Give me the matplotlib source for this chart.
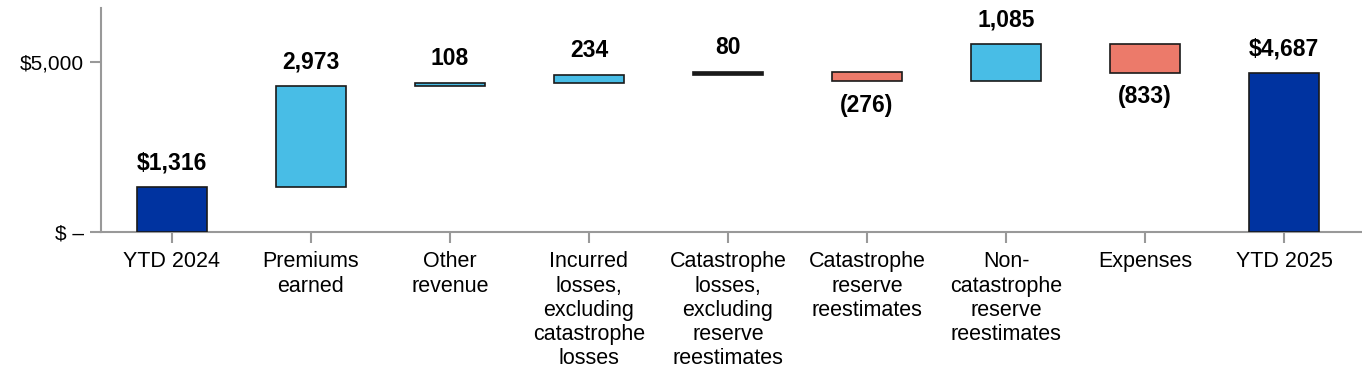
import matplotlib
matplotlib.use("Agg")
import matplotlib.pyplot as plt
import numpy as np

categories = ["YTD 2024", "Premiums\nearned", "Other\nrevenue",
              "Incurred\nlosses,\nexcluding\ncatastrophe\nlosses",
              "Catastrophe\nlosses,\nexcluding\nreserve\nreestimates",
              "Catastrophe\nreserve\nreestimates",
              "Non-\ncatastrophe\nreserve\nreestimates",
              "Expenses", "YTD 2025"]
values = [1316, 2973, 108, 234, 80, -276, 1085, -833, 4687]
is_total = [True, False, False, False, False, False, False, False, True]

C_TOTAL = "#0033A0"
C_POS = "#48BDE6"
C_NEG = "#EC7A6A"
C_EDGE = "#1a1a1a"

plt.rcParams["font.family"] = ["Liberation Sans", "DejaVu Sans"]

fig = plt.figure(figsize=(13.62, 3.84), dpi=100)
ax = fig.add_axes([101/1362, 1-232/384, 1-101/1362, (232-8)/384])

x = np.arange(len(categories))
running = 0
for i, (v, tot) in enumerate(zip(values, is_total)):
    if tot:
        bottom, height, color = 0, v, C_TOTAL
        running = v
        label = f"${v:,}"
    else:
        bottom, height = running, v
        color = C_POS if v >= 0 else C_NEG
        if abs(v) < 100:
            color = C_EDGE  # very thin bar renders as a black line
        running += v
        label = f"{v:,}" if v >= 0 else f"({-v:,})"
    ax.bar(i, height, bottom=bottom, width=0.5, color=color,
           edgecolor=C_EDGE, linewidth=1.2, zorder=3)
    top = max(bottom, bottom + height)
    low = min(bottom, bottom + height)
    if v >= 0:
        ax.annotate(label, (i, top), xytext=(0, 9), textcoords="offset points",
                    ha="center", va="bottom", fontsize=16.5, fontweight="bold")
    else:
        ax.annotate(label, (i, low), xytext=(0, -9), textcoords="offset points",
                    ha="center", va="top", fontsize=16.5, fontweight="bold")

ax.set_xlim(-0.51, 8.56)
ax.set_ylim(0, 6590)
ax.set_yticks([0, 5000])
ax.set_yticklabels(["$ \u2013", "$5,000"], fontsize=15)
ax.set_xticks(x)
ax.set_xticklabels(categories, fontsize=15.5)
for s in ["top", "right"]:
    ax.spines[s].set_visible(False)
for s in ["left", "bottom"]:
    ax.spines[s].set_color("#999999")
    ax.spines[s].set_linewidth(1.5)
ax.tick_params(axis="both", colors="#999999", length=8, width=1.5)
ax.tick_params(axis="x", labelcolor="black", pad=6)
ax.tick_params(axis="y", labelcolor="black", pad=4)

fig.savefig("out.png", dpi=100)
